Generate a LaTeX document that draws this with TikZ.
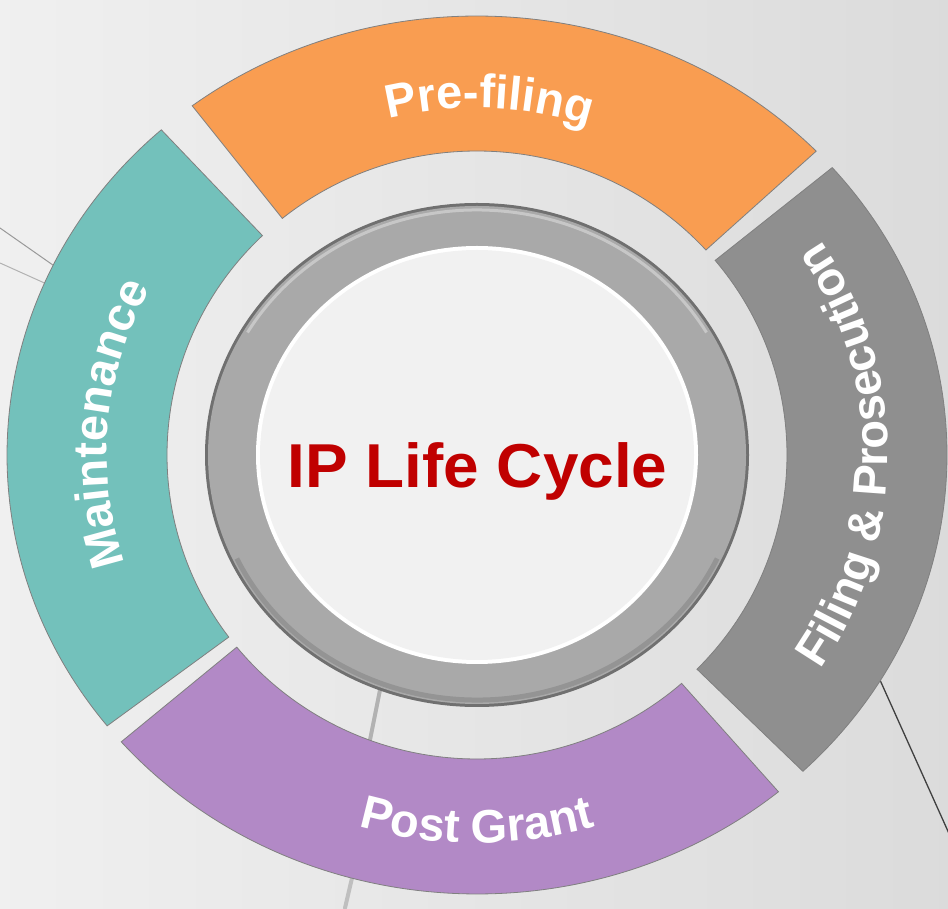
\documentclass[tikz,border=0pt]{standalone}
\usepackage{fontspec}
\setmainfont{Liberation Sans}
\usetikzlibrary{decorations.text}
\definecolor{segorange}{HTML}{F99D51}
\definecolor{segteal}{HTML}{73C1BB}
\definecolor{seggray}{HTML}{8F8F8F}
\definecolor{segpurple}{HTML}{B289C6}
\definecolor{titlered}{HTML}{C00000}
\definecolor{ringbody}{HTML}{A9A9A9}
\definecolor{ringrim}{HTML}{707070}
\definecolor{disc}{HTML}{F1F1F1}
\newcommand\segfont{\fontsize{47}{47}\selectfont\bfseries\color{white}}
\tikzset{
  segshape/.style={draw=black!50, line width=0.8pt},
  streak/.style={line cap=round},
  seglabel/.style={decorate, decoration={text along path, text align=center}}
}
\begin{document}
\begin{tikzpicture}[x=1pt,y=1pt]
\shade[left color=black!6, right color=black!14] (0,0) rectangle (948,908);
\useasboundingbox (0,0) rectangle (948,908);
% faint background streaks
\draw[streak, black!40, line width=1pt] (0,680) -- (120,596);
\draw[streak, black!30, line width=1pt] (0,645) -- (100,600);
\draw[streak, black!75, line width=1.3pt] (862,268) -- (960,50);
\draw[streak, black!30, line width=4pt] (386,248) -- (362,128);
\draw[streak, black!25, line width=4pt] (352,30) -- (345,0);
\begin{scope}[shift={(477,453)}]
% segments
\draw[segshape, fill=segorange]
  (43.8:470pt and 439pt) arc[start angle=43.8, end angle=127.3, x radius=470pt, y radius=439pt]
  -- (128.9:310pt and 304pt) arc[start angle=128.9, end angle=42.4, x radius=310pt, y radius=304pt] -- cycle;
\draw[segshape, fill=segteal]
  (132.2:470pt and 439pt) arc[start angle=132.2, end angle=218.1, x radius=470pt, y radius=439pt]
  -- (216.8:310pt and 304pt) arc[start angle=216.8, end angle=133.8, x radius=310pt, y radius=304pt] -- cycle;
\draw[segshape, fill=segpurple]
  (220.8:470pt and 439pt) arc[start angle=220.8, end angle=309.9, x radius=470pt, y radius=439pt]
  -- (311.3:310pt and 304pt) arc[start angle=311.3, end angle=219.2, x radius=310pt, y radius=304pt] -- cycle;
\draw[segshape, fill=seggray]
  (-46.1:470pt and 439pt) arc[start angle=-46.1, end angle=40.9, x radius=470pt, y radius=439pt]
  -- (39.8:310pt and 304pt) arc[start angle=39.8, end angle=-44.8, x radius=310pt, y radius=304pt] -- cycle;
% segment labels
\path[seglabel, decoration={text={|\segfont|Pre-filing}}]
  (128:360pt and 347pt) arc[start angle=128, end angle=48, x radius=360pt, y radius=347pt];
\path[seglabel, decoration={text={|\segfont|Post Grant}}]
  (225:409pt and 388pt) arc[start angle=225, end angle=315, x radius=409pt, y radius=388pt];
\path[seglabel, decoration={text={|\segfont|Maintenance}}]
  (220:370pt and 355pt) arc[start angle=220, end angle=130, x radius=370pt, y radius=355pt];
\path[seglabel, decoration={text={|\segfont|Filing {\&} Prosecution}}]
  (-45:411pt and 391pt) arc[start angle=-45, end angle=45, x radius=411pt, y radius=391pt];
% central ring
\fill[ringrim] (0,0) ellipse[x radius=272pt, y radius=252pt];
\fill[ringbody] (0,0) ellipse[x radius=269pt, y radius=249pt];
\draw[white, opacity=0.35, line width=3pt] (30:265pt and 245pt) arc[start angle=30, end angle=150, x radius=265pt, y radius=245pt];
\draw[black, opacity=0.12, line width=5pt] (205:265pt and 245pt) arc[start angle=205, end angle=335, x radius=265pt, y radius=245pt];
\fill[white] (0,0) ellipse[x radius=221pt, y radius=209pt];
\fill[disc] (0,0) ellipse[x radius=217pt, y radius=205pt];
\node[anchor=base, text=titlered, font=\fontsize{62}{62}\selectfont\bfseries, inner sep=0pt, xscale=1.03] (title) at (0.5,-32.5) {IP Life Cycle};
\end{scope}
\end{tikzpicture}
\end{document}
